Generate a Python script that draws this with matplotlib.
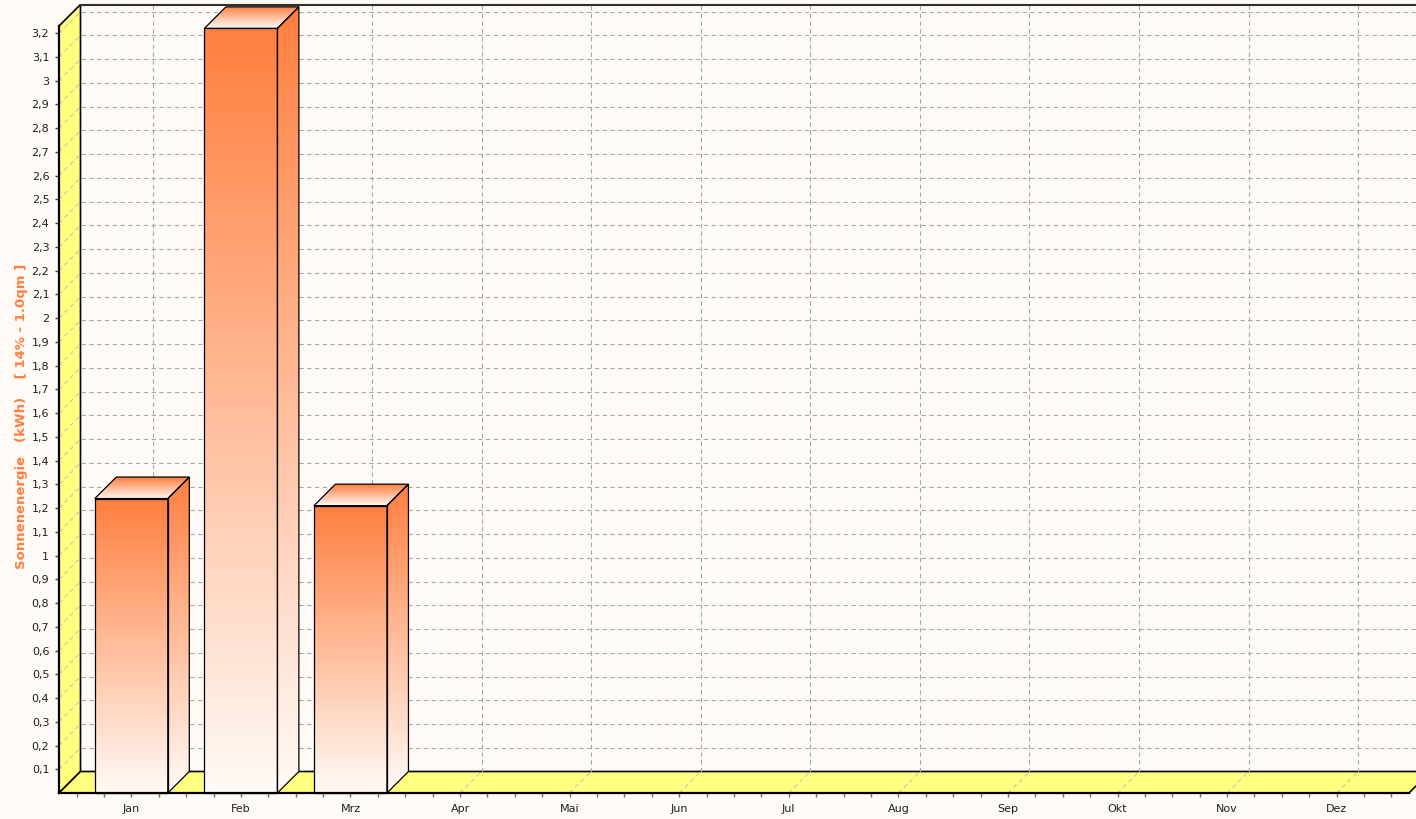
import numpy as np
import matplotlib
matplotlib.use('Agg')
import matplotlib.pyplot as plt
from matplotlib.patches import Polygon
from matplotlib.colors import LinearSegmentedColormap

# Monatswerte Sonnenenergie (kWh), bisher nur Jan-Mrz erfasst
months = ['Jan', 'Feb', 'Mrz', 'Apr', 'Mai', 'Jun', 'Jul', 'Aug', 'Sep', 'Okt', 'Nov', 'Dez']
energy = [1.24, 3.22, 1.21]
y_ticks = [round(0.1 * i, 1) for i in range(1, 33)]
y_label = 'Sonnenenergie   (kWh)    [ 14% - 1.0qm ]'

BG = '#fffaf6'
ORANGE = '#ff7f3f'
YELLOW = '#ffff80'
GRID = '#a8a8a8'

plt.rcParams['font.family'] = ['DejaVu Sans']

fig = plt.figure(figsize=(14.16, 8.19), dpi=100, facecolor=BG)
ax = fig.add_axes([59 / 1416, 26 / 819, 1350 / 1416, 767 / 819])
ax.set_facecolor('none')

x_min, x_max = -0.66, 11.66
y_min, y_max = 0, 3.23

# 3D-Tiefe in Datenkoordinaten umrechnen
depth_px = 21.5
dx = depth_px * (x_max - x_min) / 1350
dy = depth_px * (y_max - y_min) / 767

# linke Wand und Boden
wall = Polygon([(x_min, 0), (x_min, y_max), (x_min + dx, y_max + dy), (x_min + dx, dy)],
               closed=True, facecolor=YELLOW, edgecolor='black', lw=1.2, zorder=1, clip_on=False)
floor = Polygon([(x_min, 0), (x_max, 0), (x_max + dx, dy), (x_min + dx, dy)],
                closed=True, facecolor=YELLOW, edgecolor='black', lw=1.2, zorder=1, clip_on=False)
ax.add_patch(wall)
ax.add_patch(floor)

dash = dict(ls=(0, (4, 3)), lw=0.8, clip_on=False)
# Gitter auf der Rückwand und der Seitenwand
for t in y_ticks:
    ax.plot([x_min + dx, x_max + dx], [t + dy, t + dy], color=GRID, zorder=1.5, **dash)
    ax.plot([x_min, x_min + dx], [t, t + dy], color='#c8c8a0', zorder=1.5, **dash)
for i in range(len(months)):
    ax.plot([i + dx, i + dx], [dy, y_max + dy], color=GRID, zorder=1.5, **dash)
    ax.plot([i, i + dx], [0, dy], color='#c8c8a0', zorder=1.5, **dash)

# obere Kante der Rückwand
ax.plot([x_min + dx, x_max + dx], [y_max + dy, y_max + dy], color='#303030', lw=1.5,
        zorder=2, clip_on=False)

cmap = LinearSegmentedColormap.from_list('sonne', ['#fffaf6', ORANGE])
grad = np.linspace(0, 1, 256).reshape(-1, 1)
w = 0.666


def gradient_face(pts, extent, z):
    poly = Polygon(pts, closed=True, facecolor='none', edgecolor='black', lw=0.9,
                   zorder=z + 0.1, clip_on=False)
    ax.add_patch(poly)
    im = ax.imshow(grad, extent=extent, origin='lower', aspect='auto', cmap=cmap,
                   interpolation='bilinear', zorder=z)
    im.set_clip_path(poly)
    im.set_clip_box(fig.bbox)


for i, v in enumerate(energy):
    x0, x1 = i - w / 2, i + w / 2
    gradient_face([(x0, 0), (x1, 0), (x1, v), (x0, v)], [x0, x1, 0, v], 3)
    gradient_face([(x1, 0), (x1 + dx, dy), (x1 + dx, v + dy), (x1, v)],
                  [x1, x1 + dx, 0, v + dy], 3)
    gradient_face([(x0, v), (x1, v), (x1 + dx, v + dy), (x0 + dx, v + dy)],
                  [x0, x1 + dx, v, v + dy], 3)

ax.set_xlim(x_min, x_max)
ax.set_ylim(y_min, y_max)

for s in ['top', 'right']:
    ax.spines[s].set_visible(False)
for s in ['left', 'bottom']:
    ax.spines[s].set_color('black')
    ax.spines[s].set_linewidth(1.6)
    ax.spines[s].set_zorder(4)

ax.set_yticks(y_ticks)
ax.set_yticklabels([f'{t:g}'.replace('.', ',') for t in y_ticks])
ax.set_xticks(range(len(months)))
ax.set_xticklabels(months)
ax.set_xticks(np.arange(-0.5, 11.6, 0.25), minor=True)
ax.tick_params(axis='y', length=3, width=1, color='#404040', pad=4, labelsize=8,
               labelcolor='#202020')
ax.tick_params(axis='x', which='both', length=3, width=1, color='#707070', pad=5,
               labelsize=8, labelcolor='#202020')

fig.text(22 / 1416, 1 - 416 / 819, y_label, rotation=90, color=ORANGE,
         fontweight='bold', fontsize=9.5, ha='center', va='center')

fig.savefig('out.png', dpi=100, facecolor=BG)
